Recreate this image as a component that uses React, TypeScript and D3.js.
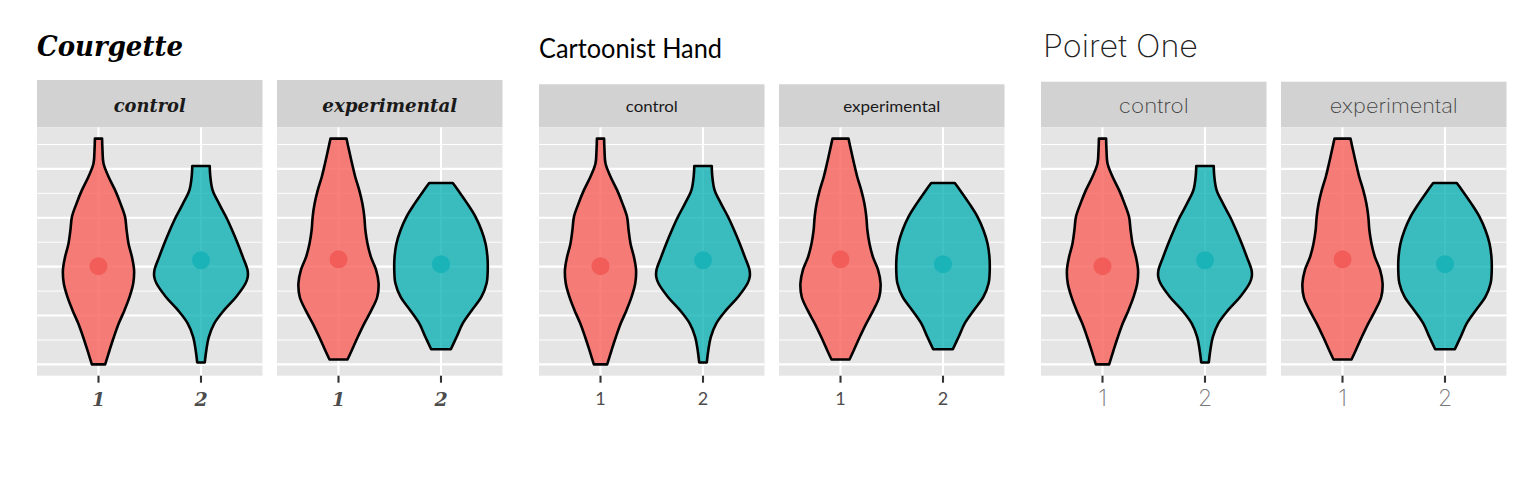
import React from "react";
import * as d3 from "d3";

// ---- data ----
const conditions = ["control", "experimental"];
const groups = ["1", "2"];
const fontTitles = ["Courgette", "Cartoonist Hand", "Poiret One"];

// violin outlines: y value and half-width (in category units)
const ctrl1Y = [5.62, 5.38, 5.11, 4.84, 4.56, 4.29, 4.02, 3.75, 3.47, 3.2, 2.93, 2.66, 2.38, 2.11, 1.84, 1.56, 1.29, 1.0];
const ctrl1W = [0.035, 0.039, 0.049, 0.098, 0.163, 0.215, 0.259, 0.274, 0.293, 0.326, 0.347, 0.339, 0.303, 0.254, 0.198, 0.15, 0.108, 0.065];
const ctrl2Y = [5.06, 4.84, 4.56, 4.29, 4.02, 3.75, 3.47, 3.2, 2.93, 2.79, 2.66, 2.38, 2.11, 1.84, 1.56, 1.29, 1.04];
const ctrl2W = [0.085, 0.091, 0.114, 0.176, 0.244, 0.303, 0.359, 0.408, 0.454, 0.456, 0.435, 0.342, 0.225, 0.13, 0.076, 0.052, 0.037];
const exp1Y = [5.62, 5.38, 5.11, 4.84, 4.56, 4.29, 4.02, 3.75, 3.47, 3.2, 2.93, 2.66, 2.38, 2.11, 1.84, 1.56, 1.29, 1.1];
const exp1W = [0.078, 0.103, 0.132, 0.163, 0.203, 0.233, 0.252, 0.262, 0.283, 0.316, 0.367, 0.391, 0.378, 0.321, 0.252, 0.188, 0.13, 0.088];
const exp2Y = [4.71, 4.56, 4.29, 4.02, 3.75, 3.47, 3.2, 2.93, 2.66, 2.38, 2.11, 1.84, 1.56, 1.31];
const exp2W = [0.115, 0.168, 0.257, 0.337, 0.394, 0.435, 0.453, 0.456, 0.445, 0.394, 0.301, 0.212, 0.152, 0.096];
const meanCtrl = [3.01, 3.13];
const meanExp = [3.15, 3.05];
const majorBreaks = [1, 2, 3, 4, 5];
const minorBreaks = [1.5, 2.5, 3.5, 4.5, 5.5];

const violinsByCondition = [
  [
    { ys: ctrl1Y, ws: ctrl1W },
    { ys: ctrl2Y, ws: ctrl2W },
  ],
  [
    { ys: exp1Y, ws: exp1W },
    { ys: exp2Y, ws: exp2W },
  ],
];
const meansByCondition = [meanCtrl, meanExp];

// ---- styles ----
const fillColors = ["#F86A63", "#00ADB2"];
const fillOpacities = [0.85, 0.75];
const dotColors = ["#F25D5A", "#1AB3B8"];

const themes = [
  {
    family: "'DejaVu Serif', serif", style: "italic", weight: 700,
    titleSize: 27, titleX: 37, titleY: 56, titleLen: 146,
    stripTop: 80, stripSize: 18, stripY: 112, stripLens: [72, 135], stripColor: "#1a1a1a", stripWeight: 700,
    tickSize: 19, tickY: 406, tickColor: "#4d4d4d", tickWeight: 700,
    titleColor: "#000",
  },
  {
    family: "Lato, 'Open Sans', sans-serif", style: "normal", weight: 400,
    titleSize: 27, titleX: 539, titleY: 58, titleLen: 183,
    stripTop: 84.3, stripSize: 15, stripY: 112, stripLens: [52, 97], stripColor: "#1a1a1a", stripWeight: 400,
    tickSize: 18, tickY: 405, tickColor: "#4d4d4d", tickWeight: 400,
    titleColor: "#000",
  },
  {
    family: "Inter, Lato, sans-serif", style: "normal", weight: 200,
    titleSize: 31, titleX: 1043, titleY: 57, titleLen: 155,
    stripTop: 81.7, stripSize: 20, stripY: 113, stripLens: [70, 128], stripColor: "#444", stripWeight: 200,
    tickSize: 23, tickY: 406, tickColor: "#777", tickWeight: 200,
    titleColor: "#222",
  },
];

const subplotX = [37, 539, 1041];
const facetW = 225.5;
const facetGap = 14.5;
const panelTop = 127.3;
const panelBottom = 375.7;

export default function App() {
  const allY = [ctrl1Y, ctrl2Y, exp1Y, exp2Y].flat();
  const lo = d3.min(allY) as number;
  const hi = d3.max(allY) as number;
  const pad = (hi - lo) * 0.05;
  const y = d3.scaleLinear().domain([lo - pad, hi + pad]).range([panelBottom, panelTop]);

  return (
    <svg width={1536} height={480} style={{ position: "absolute", left: 0, top: 0, background: "#fff" }}>
      {themes.map((th, s) => {
        const sx = subplotX[s];
        return (
          <g key={s}>
            <text
              x={th.titleX}
              y={th.titleY}
              fontFamily={th.family}
              fontStyle={th.style}
              fontWeight={th.weight}
              fontSize={th.titleSize}
              fill={th.titleColor}
              textLength={th.titleLen}
              lengthAdjust="spacingAndGlyphs"
            >
              {fontTitles[s]}
            </text>
            {conditions.map((cond, f) => {
              const fx = sx + f * (facetW + facetGap);
              const x = d3.scalePoint<string>().domain(groups).range([fx, fx + facetW]).padding(0.6);
              const unit = x.step();
              const cx = (fx + fx + facetW) / 2;
              return (
                <g key={cond}>
                  <rect x={fx} y={th.stripTop} width={facetW} height={panelTop - th.stripTop} fill="#D2D2D2" />
                  <text
                    x={cx}
                    y={th.stripY}
                    textAnchor="middle"
                    fontFamily={th.family}
                    fontStyle={th.style}
                    fontWeight={th.stripWeight}
                    fontSize={th.stripSize}
                    fill={th.stripColor}
                    textLength={th.stripLens[f]}
                    lengthAdjust="spacingAndGlyphs"
                  >
                    {cond}
                  </text>
                  <rect x={fx} y={panelTop} width={facetW} height={panelBottom - panelTop} fill="#E5E5E5" />
                  {minorBreaks.filter((b) => y(b) > panelTop && y(b) < panelBottom).map((b) => (
                    <line key={"mi" + b} x1={fx} x2={fx + facetW} y1={y(b)} y2={y(b)} stroke="#fff" strokeWidth={1} />
                  ))}
                  {majorBreaks.map((b) => (
                    <line key={"ma" + b} x1={fx} x2={fx + facetW} y1={y(b)} y2={y(b)} stroke="#fff" strokeWidth={2.1} />
                  ))}
                  {groups.map((g) => (
                    <line key={"v" + g} x1={x(g)} x2={x(g)} y1={panelTop} y2={panelBottom} stroke="#fff" strokeWidth={2.1} />
                  ))}
                  {groups.map((g, gi) => {
                    const vi = violinsByCondition[f][gi];
                    const pts = vi.ys.map((v, i) => ({ v, w: vi.ws[i] }));
                    const xc = x(g) as number;
                    const area = d3
                      .area<{ v: number; w: number }>()
                      .y((d) => y(d.v))
                      .x0((d) => xc - d.w * unit)
                      .x1((d) => xc + d.w * unit)
                      .curve(d3.curveCatmullRom.alpha(0.5));
                    return (
                      <g key={"vio" + g}>
                        <path d={area(pts) || ""} fill={fillColors[gi]} fillOpacity={fillOpacities[gi]} stroke="#000" strokeWidth={2.6} strokeLinejoin="round" />
                        <circle cx={xc} cy={y(meansByCondition[f][gi])} r={9} fill={dotColors[gi]} />
                      </g>
                    );
                  })}
                  {groups.map((g) => (
                    <g key={"t" + g}>
                      <line x1={x(g)} x2={x(g)} y1={panelBottom} y2={panelBottom + 7} stroke="#333" strokeWidth={2.1} />
                      <text
                        x={x(g)}
                        y={th.tickY}
                        textAnchor="middle"
                        fontFamily={th.family}
                        fontStyle={th.style}
                        fontWeight={th.tickWeight}
                        fontSize={th.tickSize}
                        fill={th.tickColor}
                      >
                        {g}
                      </text>
                    </g>
                  ))}
                </g>
              );
            })}
          </g>
        );
      })}
    </svg>
  );
}
